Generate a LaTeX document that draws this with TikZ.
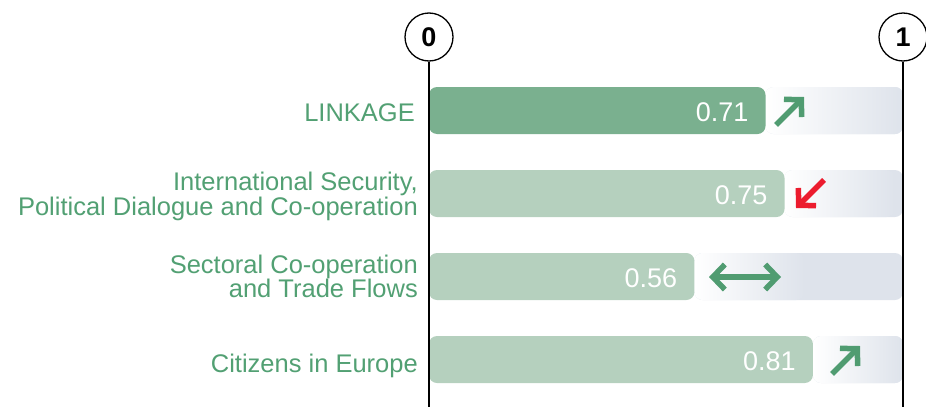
\documentclass[tikz,border=0pt]{standalone}
\usepackage{fontspec}
\setmainfont{Liberation Sans}
\usepackage{xcolor}
\usetikzlibrary{arrows.meta, calc}
\definecolor{linkGreen}{RGB}{122,176,143}
\definecolor{barGreen}{RGB}{181,208,190}
\definecolor{textGreen}{RGB}{82,160,115}
\definecolor{trendGreen}{RGB}{80,156,113}
\definecolor{trendRed}{RGB}{236,28,46}
\definecolor{trackGray}{RGB}{222,227,235}
\tikzset{
	axiscircle/.style={circle, draw=black, line width=1.3pt, minimum size=48pt, inner sep=0pt, font=\bfseries\fontsize{27}{27}\selectfont},
	axisline/.style={draw=black, line width=1.3pt},
	bar/.style={rounded corners=8pt},
	track/.style={fill=trackGray, rounded corners=8pt},
	trackfade/.style={left color=white, right color=trackGray, rounded corners=8pt},
	rowname/.style={anchor=base east, inner sep=0pt, text=textGreen, font=\fontsize{25.5}{25.5}\selectfont},
	score/.style={anchor=base east, inner sep=0pt, text=white, font=\fontsize{27}{27}\selectfont},
	trend/.style={line width=5.5pt, arrows={-Straight Barb[length=12pt, width=25pt, sharp]}},
	steady/.style={line width=5.5pt, arrows={Straight Barb[length=12pt, width=25pt, sharp]-Straight Barb[length=12pt, width=25pt, sharp]}}
}

\begin{document}
\begin{tikzpicture}[x=1pt, y=-1pt]
	\useasboundingbox (0,0) rectangle (926,407);
	\coordinate (zero) at (429,37);
	\coordinate (one) at (903,37);
	\coordinate (zeroEnd) at (429,407);
	\coordinate (oneEnd) at (903,407);

	% tracks
	\fill[track] (765.5,87) rectangle (903,134);
	\shade[trackfade] (765.5,87) rectangle (903,134);
	\fill[track] (784.5,170) rectangle (903,217);
	\shade[trackfade] (784.5,170) rectangle (894.5,217);
	\fill[track] (694.4,253) rectangle (903,300);
	\shade[trackfade] (694.4,253) rectangle (804.4,300);
	\fill[track] (812.9,336) rectangle (903,383);
	\shade[trackfade] (812.9,336) rectangle (903,383);

	% bars
	\fill[bar, linkGreen] (429,87) rectangle (765.5,134);
	\fill[bar, barGreen] (429,170) rectangle (784.5,217);
	\fill[bar, barGreen] (429,253) rectangle (694.4,300);
	\fill[bar, barGreen] (429,336) rectangle (812.9,383);

	\node[score] (s1) at (748.5,121) {0.71};
	\node[score] (s2) at (767.5,204) {0.75};
	\node[score] (s3) at (677.4,287) {0.56};
	\node[score] (s4) at (795.9,370) {0.81};

	\node[rowname] (r1) at (415,121) {LINKAGE};
	\node[rowname] (r2a) at (418,190) {International Security,};
	\node[rowname] (r2b) at (418,215) {Political Dialogue and Co-operation};
	\node[rowname] (r3a) at (418,273) {Sectoral Co-operation};
	\node[rowname] (r3b) at (418,297) {and Trade Flows};
	\node[rowname] (r4) at (418,372) {Citizens in Europe};

	% trend arrows
	\coordinate (t1a) at (776,125);
	\coordinate (t1b) at (804,97);
	\coordinate (t2a) at (824,180);
	\coordinate (t2b) at (796,208);
	\coordinate (t3a) at (709,277);
	\coordinate (t3b) at (781,277);
	\coordinate (t4a) at (832,374);
	\coordinate (t4b) at (860,346);
	\draw[trend, trendGreen] (t1a) -- (t1b);
	\draw[trend, trendRed] (t2a) -- (t2b);
	\draw[steady, trendGreen] (t3a) -- (t3b);
	\draw[trend, trendGreen] (t4a) -- (t4b);

	% axes
	\node[axiscircle] (c0) at (zero) {0};
	\node[axiscircle] (c1) at (one) {1};
	\draw[axisline] (c0.south) -- (zeroEnd);
	\draw[axisline] (c1.south) -- (oneEnd);
\end{tikzpicture}
\end{document}
